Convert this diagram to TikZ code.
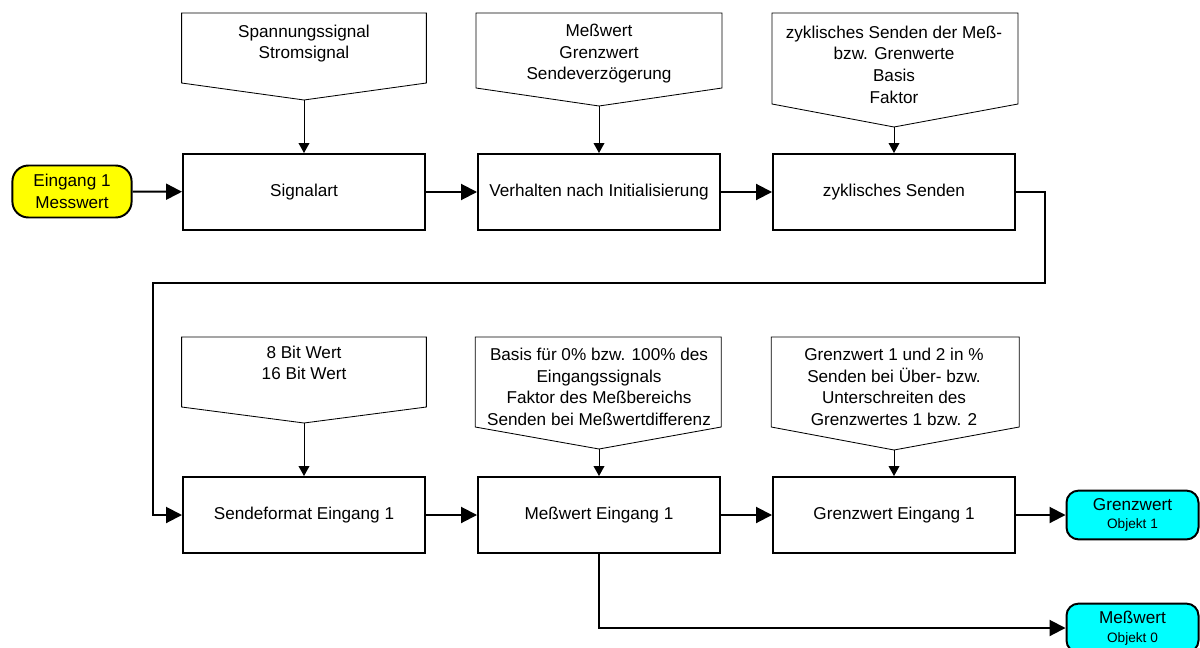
\documentclass[tikz,border=0pt]{standalone}
\usepackage{fontspec}
\setmainfont{Liberation Sans}
\usetikzlibrary{arrows.meta}

\definecolor{gelb}{RGB}{255,255,0}
\definecolor{tuerkis}{RGB}{0,255,255}

\newcommand{\grundschrift}{\fontsize{12.2}{15.4}\selectfont}
\newcommand{\kleinschrift}{\fontsize{9.7}{11.6}\selectfont}

\tikzset{
    block/.style={draw, line width=1.4pt, minimum width=6.05cm, minimum height=1.9cm, align=center, font=\grundschrift},
    eingang/.style={draw, fill=gelb, line width=1.4pt, rounded corners=0.4cm, minimum width=2.98cm, minimum height=1.3cm, align=center, font=\grundschrift},
    objekt/.style={draw, fill=tuerkis, line width=1.4pt, rounded corners=0.3cm, minimum width=3.3cm, minimum height=1.22cm, align=center, font=\grundschrift},
    hinweis/.style={align=center, font=\grundschrift},
    rahmen/.style={line width=0.6pt},
    fluss/.style={line width=1.4pt, -{Triangle[length=0.4cm, width=0.4cm]}},
    zufuehr/.style={line width=0.7pt, -{Triangle[length=0.25cm, width=0.27cm]}}
}

\begin{document}
\begin{tikzpicture}
    \useasboundingbox (0, 0) rectangle (30, -16.2);

    % obere Reihe
    \node [eingang] (eingang) at (1.8, -4.7875) {Eingang 1\\Messwert};
    \node [block] (signalart) at (7.6, -4.8) {Signalart};
    \node [block] (verhalten) at (14.975, -4.8) {Verhalten nach Initialisierung};
    \node [block] (zyklisch) at (22.35, -4.8) {zyklisches Senden};

    % untere Reihe
    \node [block] (sendeformat) at (7.6, -12.875) {Sendeformat Eingang 1};
    \node [block] (messwert) at (14.975, -12.875) {Meßwert Eingang 1};
    \node [block] (grenzwert) at (22.35, -12.875) {Grenzwert Eingang 1};
    \node [objekt] (objeins) at (28.3125, -12.875) {Grenzwert\\[-2pt]{\kleinschrift Objekt 1}};
    \node [objekt] (objnull) at (28.3125, -15.7) {Meßwert\\[-2pt]{\kleinschrift Objekt 0}};

    % Hinweise oben
    \node [hinweis] (text1) at (7.6, -1.09) {Spannungssignal\\Stromsignal};
    \draw [rahmen] (4.54, -0.325) -- (10.66, -0.325) -- (10.66, -2.075) -- (7.6, -2.5) coordinate (spitze1) -- (4.54, -2.075) -- cycle;
    \node [hinweis] (text2) at (14.975, -1.34) {Meßwert\\Grenzwert\\Sendeverzögerung};
    \draw [rahmen] (11.9, -0.325) -- (18.05, -0.325) -- (18.05, -2.2) -- (14.975, -2.65) coordinate (spitze2) -- (11.9, -2.2) -- cycle;
    \node [hinweis] (text3) at (22.35, -1.6125) {zyklisches Senden der Meß-\\bzw. Grenwerte\\Basis\\Faktor};
    \draw [rahmen] (19.3, -0.325) -- (25.45, -0.325) -- (25.45, -2.6) -- (22.35, -3.175) coordinate (spitze3) -- (19.3, -2.6) -- cycle;

    % Hinweise unten
    \node [hinweis] (text4) at (7.6, -9.075) {8 Bit Wert\\16 Bit Wert};
    \draw [rahmen] (4.54, -8.425) -- (10.66, -8.425) -- (10.66, -10.175) -- (7.6, -10.575) coordinate (spitze4) -- (4.54, -10.175) -- cycle;
    \node [hinweis] (text5) at (14.975, -9.67) {Basis für 0\% bzw. 100\% des\\Eingangssignals\\Faktor des Meßbereichs\\Senden bei Meßwertdifferenz};
    \draw [rahmen] (11.88, -8.425) -- (18.03, -8.425) -- (18.03, -10.675) -- (14.975, -11.225) coordinate (spitze5) -- (11.88, -10.675) -- cycle;
    \node [hinweis] (text6) at (22.35, -9.67) {Grenzwert 1 und 2 in \%\\Senden bei Über- bzw.\\Unterschreiten des\\Grenzwertes 1 bzw. 2};
    \draw [rahmen] (19.28, -8.425) -- (25.48, -8.425) -- (25.48, -10.675) -- (22.35, -11.25) coordinate (spitze6) -- (19.28, -10.675) -- cycle;

    \draw [zufuehr] (spitze1) -- (signalart.north);
    \draw [zufuehr] (spitze2) -- (verhalten.north);
    \draw [zufuehr] (spitze3) -- (zyklisch.north);
    \draw [zufuehr] (spitze4) -- (sendeformat.north);
    \draw [zufuehr] (spitze5) -- (messwert.north);
    \draw [zufuehr] (spitze6) -- (grenzwert.north);

    % Hauptfluss
    \coordinate (knickrechts) at (26.125, -7.075);
    \coordinate (knicklinks) at (3.825, -7.075);
    \draw [fluss] (eingang) -- (signalart);
    \draw [fluss] (signalart) -- (verhalten);
    \draw [fluss] (verhalten) -- (zyklisch);
    \draw [fluss] (zyklisch.east) -| (knickrechts) -- (knicklinks) |- (sendeformat.west);
    \draw [fluss] (sendeformat) -- (messwert);
    \draw [fluss] (messwert) -- (grenzwert);
    \draw [fluss] (grenzwert) -- (objeins);
    \draw [fluss] (messwert.south) |- (objnull.west);
\end{tikzpicture}
\end{document}
